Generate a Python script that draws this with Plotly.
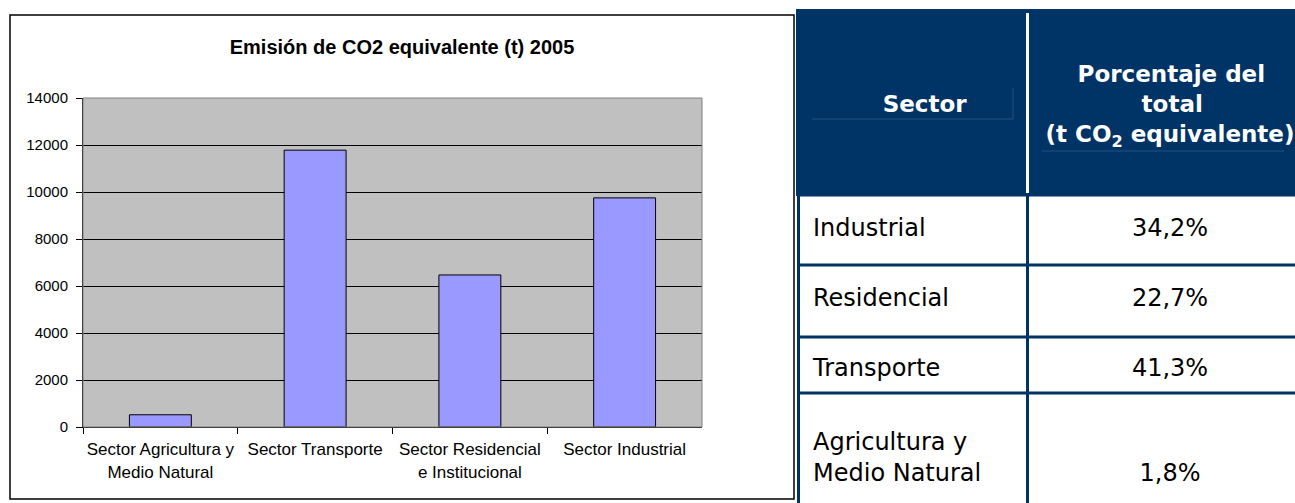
import plotly.graph_objects as go

# ---- data ----
categories = ["Sector Agricultura y<br>Medio Natural", "Sector Transporte",
              "Sector Residencial<br>e Institucional", "Sector Industrial"]
emissions = [520, 11780, 6470, 9750]
y_ticks = [0, 2000, 4000, 6000, 8000, 10000, 12000, 14000]
chart_title = "Emisión de CO2 equivalente (t) 2005"

NB = "\u00a0"
table_header = [NB + "<br><b>Sector</b>",
                "<b>" + NB * 4 + "Porcentaje del<br>" + NB * 12 + "total<br>"
                "(t CO<sub>2</sub> equivalente)</b>"]
table_sectors = ["Industrial", "Residencial", "Transporte", "Agricultura y<br>Medio Natural"]
table_shares = ["34,2%", "22,7%", "41,3%", "1,8%"]

# vertically centre a share next to a two-line sector label
shares_display = [(NB + "<br>" + s) if "<br>" in lab else s
                  for lab, s in zip(table_sectors, table_shares)]

W, H = 1295, 503
NAVY = "#003366"
FAINT = "#24507f"


def px(x):
    return x / W


def py(y):
    return 1 - y / H


fig = go.Figure()

fig.add_trace(go.Bar(
    x=categories, y=emissions,
    marker=dict(color="#9999FF", line=dict(color="black", width=1)),
    width=0.4, xaxis="x", yaxis="y", showlegend=False,
))

# table: header text box starts at y=53, body rows (70 px) start at y=210
fig.add_trace(go.Table(
    domain=dict(x=[px(805), 1.0], y=[0.0, py(53)]),
    columnwidth=[240, 250],
    header=dict(values=table_header, fill_color=NAVY,
                line=dict(color=NAVY, width=0),
                font=dict(family="DejaVu Sans", size=23, color="white"),
                align="center", height=157),
    cells=dict(values=[table_sectors, shares_display], fill_color="white",
               line=dict(color="white", width=0),
               font=dict(family="DejaVu Sans", size=24, color="black"),
               align=["left", "center"], height=70),
))

shapes = [
    # plot area border
    dict(type="rect", xref="x domain", yref="y domain", x0=0, x1=1, y0=0, y1=1,
         line=dict(color="#808080", width=1), layer="above"),
    # chart frame
    dict(type="rect", xref="paper", yref="paper", x0=px(10), x1=px(794),
         y0=py(499), y1=py(15), line=dict(color="black", width=1.5)),
    # navy header block (behind the table)
    dict(type="rect", xref="paper", yref="paper", x0=px(796), x1=1.0,
         y0=py(196), y1=py(9), line=dict(width=0), fillcolor=NAVY, layer="below"),
    # white body area between header bottom and first table row
    dict(type="rect", xref="paper", yref="paper", x0=px(797), x1=1.0,
         y0=py(211), y1=py(196), line=dict(width=0), fillcolor="white", layer="above"),
    # white column separator in header
    dict(type="line", xref="paper", yref="paper", x0=px(1027.5), x1=px(1027.5),
         y0=py(193), y1=py(13), line=dict(color="white", width=3), layer="above"),
    # faint lines inside header
    dict(type="line", xref="paper", yref="paper", x0=px(812), x1=px(1013),
         y0=py(119), y1=py(119), line=dict(color=FAINT, width=1), layer="above"),
    dict(type="line", xref="paper", yref="paper", x0=px(1013), x1=px(1013),
         y0=py(119), y1=py(88), line=dict(color=FAINT, width=1), layer="above"),
    dict(type="line", xref="paper", yref="paper", x0=px(1042), x1=px(1284),
         y0=py(151), y1=py(151), line=dict(color=FAINT, width=1), layer="above"),
]
# body grid lines
for yb in [195, 265, 337, 393]:
    shapes.append(dict(type="line", xref="paper", yref="paper", x0=px(797), x1=1.0,
                       y0=py(yb), y1=py(yb), line=dict(color=NAVY, width=3),
                       layer="above"))
for xb in [798.5, 1027.5]:
    shapes.append(dict(type="line", xref="paper", yref="paper", x0=px(xb), x1=px(xb),
                       y0=0, y1=py(195), line=dict(color=NAVY, width=3),
                       layer="above"))

fig.update_layout(
    width=W, height=H,
    margin=dict(l=0, r=0, t=0, b=0, autoexpand=False),
    paper_bgcolor="white",
    plot_bgcolor="#C0C0C0",
    font=dict(family="Liberation Sans, Arial", color="black"),
    title=dict(text="<b>" + chart_title + "</b>", x=px(402), y=py(47),
               xanchor="center", yanchor="middle", automargin=False,
               font=dict(family="Liberation Sans, Arial", size=20, color="black")),
    xaxis=dict(domain=[px(83), px(702)], showline=True, linecolor="black",
               linewidth=1, ticks="outside", tickson="boundaries", ticklen=6,
               tickcolor="black", tickfont=dict(size=17), tickangle=0,
               ticklabelstandoff=7, showgrid=False,
               automargin=False, fixedrange=True),
    yaxis=dict(domain=[py(427), py(98)], range=[0, 14000], tickvals=y_ticks,
               tickformat="d", automargin=False, fixedrange=True,
               ticklabelstandoff=5,
               showline=True, linecolor="black", linewidth=1, ticks="outside",
               ticklen=6, tickcolor="black", showgrid=True, gridcolor="black",
               gridwidth=1, tickfont=dict(size=15), zeroline=False),
    shapes=shapes,
)

fig.write_html("out.html", config={"displayModeBar": False},
               post_script="document.body.style.margin='0';")
